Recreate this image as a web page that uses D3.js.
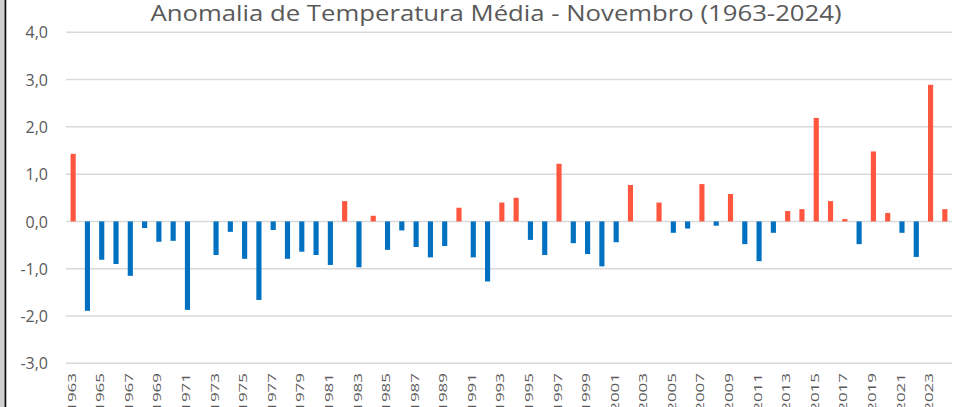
<!DOCTYPE html>
<html><head><meta charset="utf-8">
<script src="https://cdn.jsdelivr.net/npm/d3@7"></script>
<style>html,body{margin:0;padding:0;background:#fff;overflow:hidden}svg{display:block}</style>
</head><body>
<script>
const titleText = "Anomalia de Temperatura Média - Novembro (1963-2024)";
const years = d3.range(1963, 2025);
const anomalies = [
  1.43, -1.89, -0.81, -0.90, -1.15, -0.14, -0.43, -0.41, -1.87, 0.00,
  -0.71, -0.22, -0.79, -1.66, -0.18, -0.79, -0.64, -0.71, -0.92, 0.43,
  -0.97, 0.12, -0.60, -0.19, -0.54, -0.76, -0.52, 0.29, -0.76, -1.27,
  0.40, 0.50, -0.39, -0.71, 1.22, -0.46, -0.69, -0.95, -0.44, 0.77,
  0.00, 0.40, -0.24, -0.15, 0.79, -0.09, 0.58, -0.48, -0.84, -0.24,
  0.22, 0.26, 2.19, 0.43, 0.05, -0.48, 1.48, 0.18, -0.24, -0.75,
  2.89, 0.26
];
const yTicks = [-3, -2, -1, 0, 1, 2, 3, 4];
const xTickYears = years.filter((y, i) => i % 2 === 0);

const W = 965, H = 407;
const svg = d3.select("body").append("svg").attr("width", W).attr("height", H);

// left frame edge
svg.append("rect").attr("x", 0).attr("y", 0).attr("width", 4.5).attr("height", H).attr("fill", "#cfcfcf");
svg.append("rect").attr("x", 4.5).attr("y", 0).attr("width", 1.8).attr("height", H).attr("fill", "#111");

const x = d3.scaleBand().domain(years).range([66, 952]).paddingInner(0.64).paddingOuter(0.32);
const y = d3.scaleLinear().domain([-3, 4]).range([363.3, 32.3]);

// gridlines
svg.append("g").selectAll("line").data(yTicks).join("line")
  .attr("x1", 66).attr("x2", 952)
  .attr("y1", d => y(d)).attr("y2", d => y(d))
  .attr("stroke", "#d9d9d9").attr("stroke-width", 1.5);

// y axis labels
const yAxis = d3.axisLeft(y).tickValues(yTicks).tickSize(0).tickPadding(0)
  .tickFormat(d => d3.format(".1f")(d).replace(".", ",").replace("−", "-"));
const gy = svg.append("g").attr("transform", "translate(48,0)").call(yAxis);
gy.select(".domain").remove();
gy.selectAll("text").attr("font-family", "'Open Sans', sans-serif").attr("font-size", 16)
  .attr("fill", "#595959").attr("dy", "0.35em");

// bars
svg.append("g").selectAll("rect").data(years.map((yr, i) => ({yr, v: anomalies[i]}))).join("rect")
  .attr("x", d => x(d.yr))
  .attr("width", x.bandwidth())
  .attr("y", d => y(Math.max(0, d.v)))
  .attr("height", d => Math.abs(y(d.v) - y(0)))
  .attr("fill", d => d.v >= 0 ? "#FF5640" : "#0070C0");

// x axis labels
const xAxis = d3.axisBottom(x).tickValues(xTickYears).tickSize(0).tickPadding(0);
const gx = svg.append("g").attr("transform", "translate(0,373)").call(xAxis);
gx.select(".domain").remove();
gx.selectAll("text")
  .attr("font-family", "'Open Sans', sans-serif").attr("font-size", 17).attr("fill", "#595959")
  .attr("transform", "translate(-1.5,0) rotate(-90) scale(1,0.68)")
  .attr("text-anchor", "end").attr("x", 0).attr("y", 0).attr("dy", "0.35em");

// title
const t = svg.append("text").attr("x", 496).attr("y", 21).attr("text-anchor", "middle")
  .attr("font-family", "'Open Sans', sans-serif").attr("font-size", 22).attr("fill", "#595959")
  .text(titleText);
t.attr("textLength", 691).attr("lengthAdjust", "spacingAndGlyphs");
</script>
</body></html>
